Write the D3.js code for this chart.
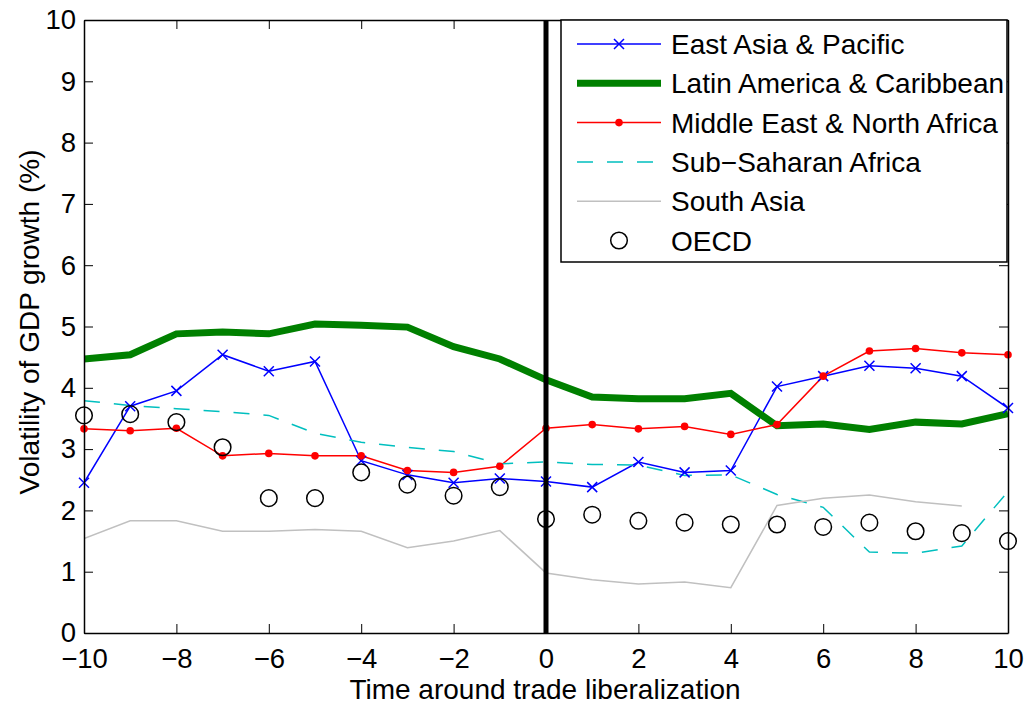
<!DOCTYPE html>
<html>
<head>
<meta charset="utf-8">
<script src="https://cdn.jsdelivr.net/npm/d3@7"></script>
<style>
  html, body { margin: 0; padding: 0; background: #fff; }
  svg { display: block; font-family: "Liberation Sans", Arial, Helvetica, sans-serif; }
</style>
</head>
<body>
<svg id="chart" width="1028" height="704"></svg>
<script>
// Years relative to trade liberalization
const years = [-10, -9, -8, -7, -6, -5, -4, -3, -2, -1, 0, 1, 2, 3, 4, 5, 6, 7, 8, 9, 10];

// Volatility of GDP growth (%) by region
const eastAsia = [2.45, 3.70, 3.95, 4.54, 4.27, 4.43, 2.81, 2.58, 2.45, 2.52, 2.47, 2.38, 2.79, 2.62, 2.65, 4.02, 4.19, 4.36, 4.32, 4.19, 3.67];
const latinAmerica = [4.47, 4.54, 4.88, 4.91, 4.88, 5.04, 5.02, 4.99, 4.67, 4.47, 4.13, 3.85, 3.82, 3.82, 3.91, 3.38, 3.41, 3.32, 3.44, 3.41, 3.58];
const middleEast = [3.33, 3.30, 3.34, 2.89, 2.93, 2.89, 2.89, 2.65, 2.62, 2.72, 3.34, 3.40, 3.33, 3.37, 3.24, 3.40, 4.19, 4.60, 4.64, 4.57, 4.54];
const subSaharan = [3.79, 3.71, 3.66, 3.61, 3.55, 3.26, 3.11, 3.03, 2.96, 2.76, 2.79, 2.75, 2.74, 2.57, 2.58, 2.26, 2.05, 1.32, 1.30, 1.42, 2.31];
const southAsia = [1.54, 1.83, 1.83, 1.66, 1.66, 1.69, 1.66, 1.39, 1.50, 1.67, 0.98, 0.87, 0.80, 0.83, 0.74, 2.08, 2.20, 2.25, 2.14, 2.07, null];
const oecd = [3.55, 3.57, 3.44, 3.03, 2.20, 2.20, 2.62, 2.42, 2.24, 2.38, 1.86, 1.93, 1.83, 1.80, 1.77, 1.77, 1.73, 1.80, 1.66, 1.63, 1.50];

const xTicks = [-10, -8, -6, -4, -2, 0, 2, 4, 6, 8, 10];
const yTicks = [0, 1, 2, 3, 4, 5, 6, 7, 8, 9, 10];

const series = [
  { name: "East Asia & Pacific", values: eastAsia, color: "#0000ff", width: 1.5, dash: null, marker: "x" },
  { name: "Latin America & Caribbean", values: latinAmerica, color: "#008000", width: 7, dash: null, marker: null },
  { name: "Middle East & North Africa", values: middleEast, color: "#ff0000", width: 1.5, dash: null, marker: "dot" },
  { name: "Sub\u2212Saharan Africa", values: subSaharan, color: "#00bfbf", width: 1.5, dash: "16,14", marker: null },
  { name: "South Asia", values: southAsia, color: "#c0c0c0", width: 1.5, dash: null, marker: null },
  { name: "OECD", values: oecd, color: "#000000", width: 0, dash: null, marker: "circle" }
];

const svg = d3.select("#chart");
const plotLeft = 84, plotRight = 1008, plotTop = 20, plotBottom = 633;
const tickFont = 27.5, labelFont = 28;

const x = d3.scaleLinear().domain([-10, 10]).range([plotLeft, plotRight]);
const y = d3.scaleLinear().domain([0, 10]).range([plotBottom, plotTop]);

const plot = svg.append("g");

// clip lines to the axes box
svg.append("defs").append("clipPath").attr("id", "clip")
  .append("rect").attr("x", plotLeft).attr("y", plotTop)
  .attr("width", plotRight - plotLeft).attr("height", plotBottom - plotTop);

const lineGen = d3.line()
  .defined(d => d.v != null)
  .x(d => x(d.t))
  .y(d => y(d.v));

const lines = plot.append("g").attr("clip-path", "url(#clip)");

function drawMarker(g, type, cx, cy, color) {
  if (type === "x") {
    const s = 5;
    g.append("path")
      .attr("d", `M${cx - s},${cy - s}L${cx + s},${cy + s}M${cx - s},${cy + s}L${cx + s},${cy - s}`)
      .attr("stroke", color).attr("stroke-width", 1.5).attr("fill", "none");
  } else if (type === "dot") {
    g.append("circle").attr("cx", cx).attr("cy", cy).attr("r", 3.8).attr("fill", color);
  } else if (type === "circle") {
    g.append("circle").attr("cx", cx).attr("cy", cy).attr("r", 8.3)
      .attr("fill", "none").attr("stroke", color).attr("stroke-width", 1.5);
  }
}

series.forEach(s => {
  const pts = years.map((t, i) => ({ t, v: s.values[i] }));
  if (s.width > 0) {
    lines.append("path")
      .datum(pts)
      .attr("d", lineGen)
      .attr("fill", "none")
      .attr("stroke", s.color)
      .attr("stroke-width", s.width)
      .attr("stroke-linejoin", "miter")
      .attr("stroke-dasharray", s.dash);
  }
  if (s.marker) {
    const mg = plot.append("g");
    pts.filter(p => p.v != null).forEach(p => drawMarker(mg, s.marker, x(p.t), y(p.v), s.color));
  }
});

// vertical line at the liberalization date
plot.append("line")
  .attr("x1", x(0)).attr("x2", x(0))
  .attr("y1", y(10)).attr("y2", y(0))
  .attr("stroke", "#000").attr("stroke-width", 5);

// axes (ticks pointing inward, box on all four sides)
const axisStyle = g => {
  g.selectAll(".domain").attr("stroke", "#000").attr("stroke-width", 1.5);
  g.selectAll(".tick line").attr("stroke", "#000").attr("stroke-width", 1);
  g.selectAll("text").attr("font-size", tickFont).attr("fill", "#000")
    .attr("font-family", "'Liberation Sans', Arial, sans-serif");
};

svg.append("g").attr("transform", `translate(0,${plotBottom})`)
  .call(d3.axisBottom(x).tickValues(xTicks).tickSizeInner(-9).tickSizeOuter(0).tickPadding(15))
  .call(axisStyle);
svg.append("g").attr("transform", `translate(0,${plotTop})`)
  .call(d3.axisTop(x).tickValues(xTicks).tickSizeInner(-9).tickSizeOuter(0).tickFormat(""))
  .call(axisStyle);
svg.append("g").attr("transform", `translate(${plotLeft},0)`)
  .call(d3.axisLeft(y).tickValues(yTicks).tickSizeInner(-9).tickSizeOuter(0).tickPadding(8))
  .call(axisStyle);
svg.append("g").attr("transform", `translate(${plotRight},0)`)
  .call(d3.axisRight(y).tickValues(yTicks).tickSizeInner(-9).tickSizeOuter(0).tickFormat(""))
  .call(axisStyle);

// axis titles
svg.append("text")
  .attr("x", 545).attr("y", 699)
  .attr("text-anchor", "middle").attr("font-size", labelFont)
  .text("Time around trade liberalization");
svg.append("text")
  .attr("transform", `translate(39,322) rotate(-90)`)
  .attr("text-anchor", "middle").attr("font-size", labelFont)
  .text("Volatility of GDP growth (%)");

// legend
const legend = svg.append("g");
const lx = 561, ly = 20, lw = 446, lh = 242;
legend.append("rect").attr("x", lx).attr("y", ly).attr("width", lw).attr("height", lh)
  .attr("fill", "#fff").attr("stroke", "#000").attr("stroke-width", 1.5);

series.forEach((s, i) => {
  const cy = 44 + i * 39.3;
  if (s.width > 0) {
    legend.append("line")
      .attr("x1", 577).attr("x2", 661).attr("y1", cy).attr("y2", cy)
      .attr("stroke", s.color).attr("stroke-width", s.width)
      .attr("stroke-dasharray", s.dash);
  }
  if (s.marker) drawMarker(legend, s.marker, 619, cy, s.color);
  legend.append("text")
    .attr("x", 671).attr("y", cy).attr("dy", "0.36em")
    .attr("font-size", labelFont)
    .text(s.name);
});
</script>
</body>
</html>
